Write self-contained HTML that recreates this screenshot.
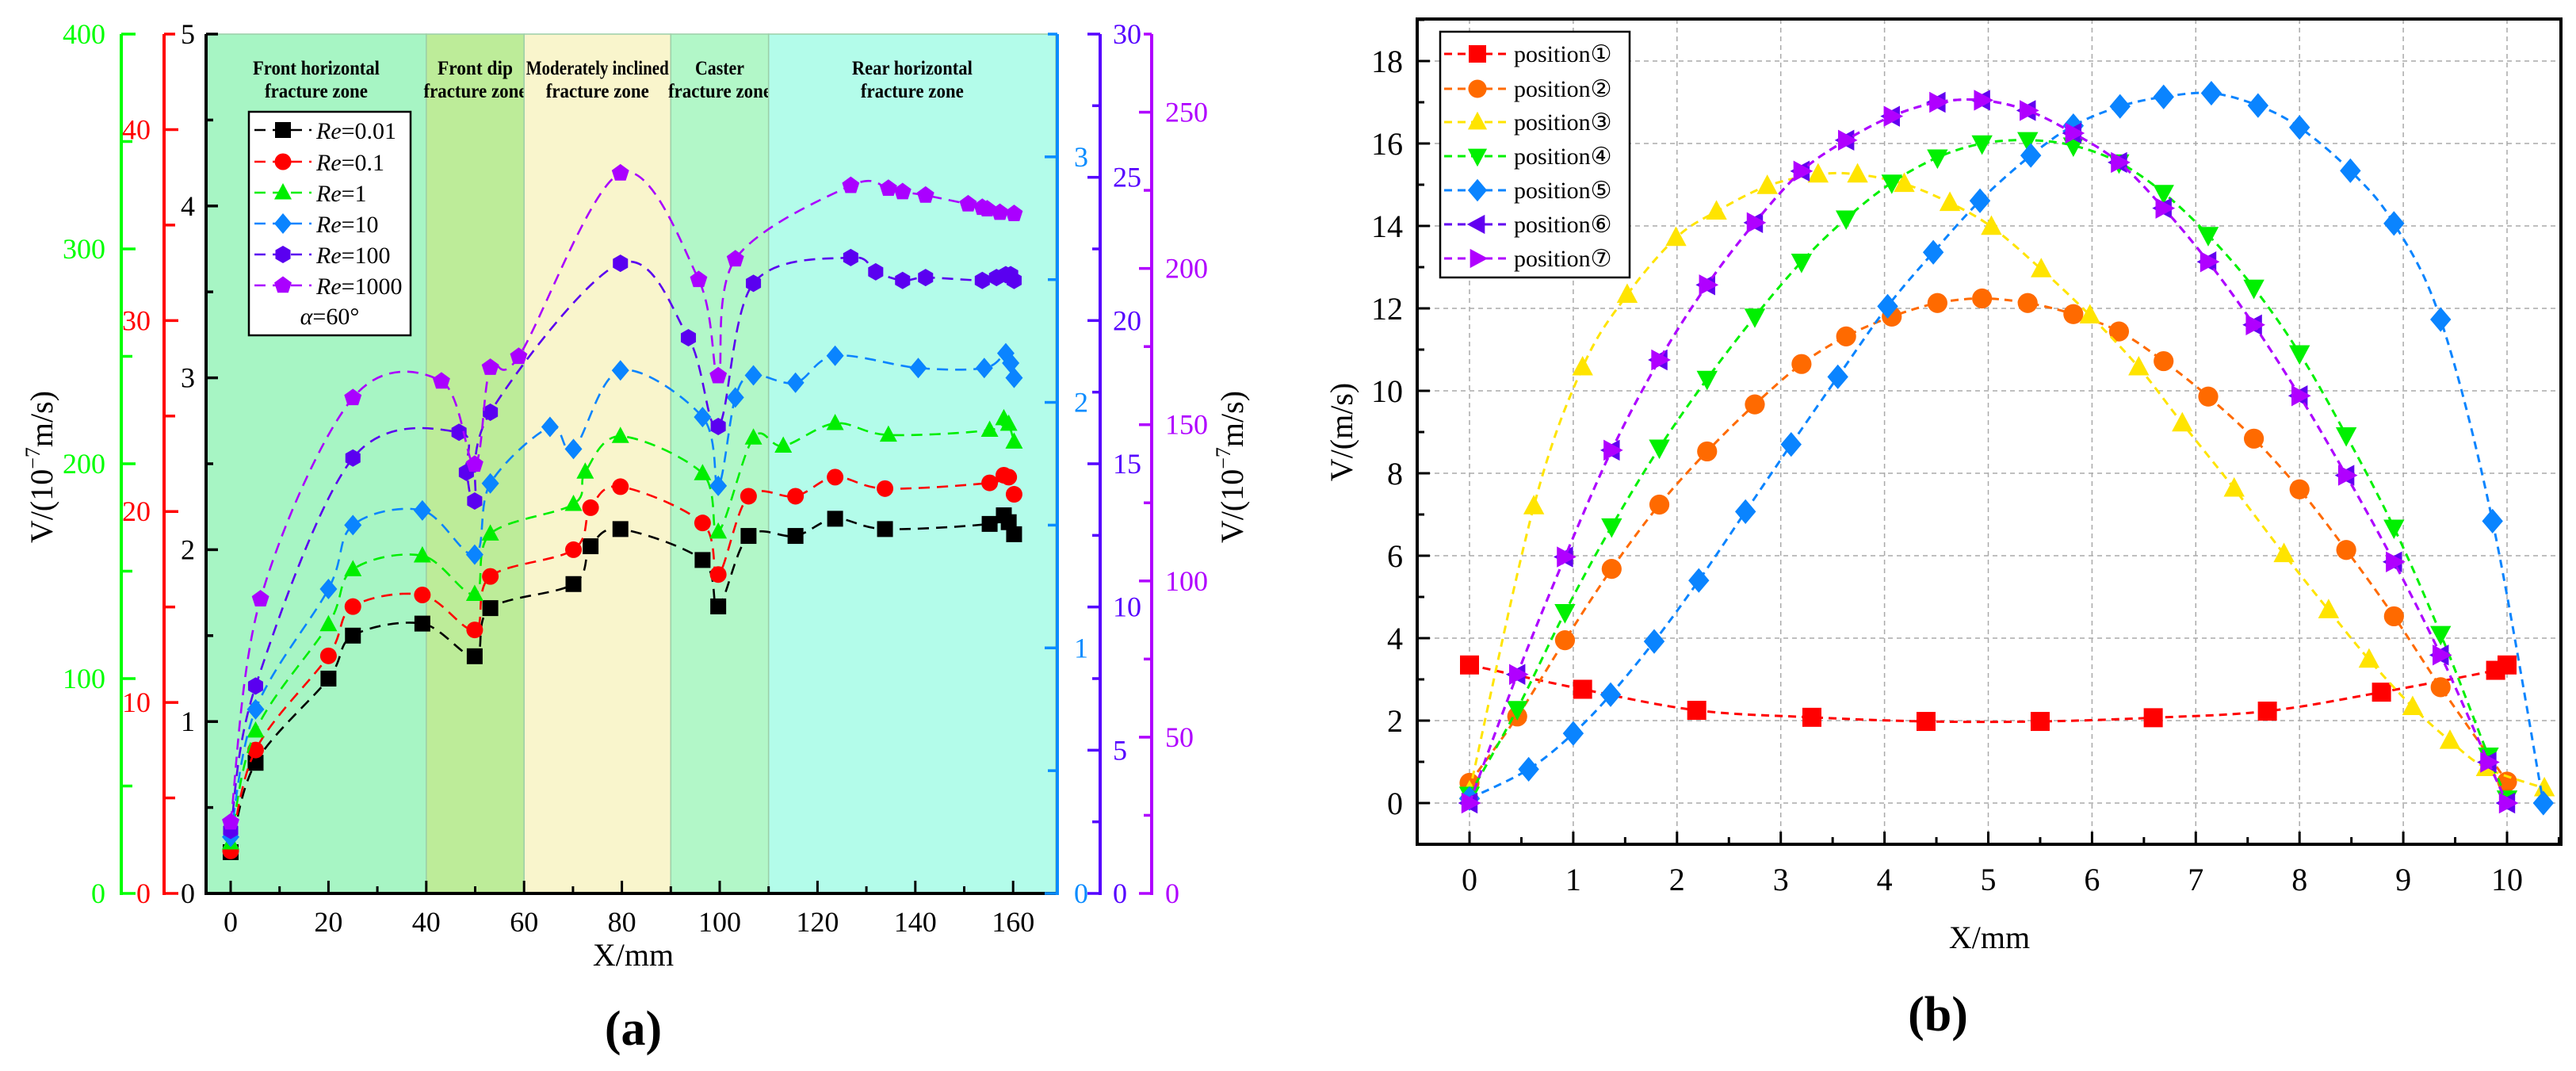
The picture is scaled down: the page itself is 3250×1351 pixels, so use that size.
<!DOCTYPE html>
<html><head><meta charset="utf-8"><style>
html,body{margin:0;padding:0;background:#fff;}
svg{display:block;font-family:"Liberation Serif",serif;}
</style></head><body>
<svg id="root" width="3250" height="1351" viewBox="0 0 3250 1351" xmlns="http://www.w3.org/2000/svg">
<g id="panelA"></g>
<g id="panelB"></g>
</svg>
<script>
// ---------- Panel (a) data ----------
const aZoneBounds = [-5, 40, 60, 90, 110, 169];
const aZoneNames = [["Front horizontal","fracture zone"],["Front dip","fracture zone"],["Moderately inclined","fracture zone"],["Caster","fracture zone"],["Rear horizontal","fracture zone"]];
const aZoneTextLen = [[160,130],[95,130],[180,130],[62,130],[152,130]];
const aX = [0,5.1,20,25,39.2,49.9,53.1,70.1,73.6,79.7,96.5,99.7,105.9,115.5,123.6,133.8,155.2,158.1,159.1,160.2];
const aRe001 = [0.24,0.76,1.25,1.50,1.57,1.38,1.66,1.80,2.02,2.12,1.94,1.67,2.08,2.08,2.18,2.12,2.15,2.20,2.16,2.09];
const aRe01 = [2.23,7.51,12.44,15.02,15.63,13.8,16.6,18.0,20.2,21.3,19.4,16.7,20.8,20.8,21.8,21.2,21.5,21.9,21.8,20.9];
const aX1 = [0,5.1,20,25,39.2,49.9,53.1,70.1,72.5,79.7,96.5,99.7,106.9,113,123.6,134.5,155.2,158.1,159.1,160.2];
const aRe1 = [23.6,75.7,125.2,150.8,157.2,139.3,167.4,181.2,196.2,212.8,195.5,168.3,212.1,208.3,218.8,213.4,215.7,221.1,218.5,210.2];
const aX10 = [0,5.1,20,25,39.2,49.9,53.1,65.3,70.1,79.7,96.5,99.7,103.2,106.9,115.5,123.6,140.6,154.1,158.5,159.5,160.2];
const aRe10 = [0.23,0.75,1.24,1.50,1.56,1.38,1.67,1.90,1.81,2.13,1.94,1.66,2.02,2.11,2.08,2.19,2.14,2.14,2.20,2.16,2.10];
const aX100 = [0,5.1,25,46.7,48.2,49.9,53.1,79.7,93.6,99.7,106.9,126.8,131.9,137.4,142.1,153.7,156.6,158.5,159.5,160.2];
const aRe100 = [2.20,7.24,15.2,16.1,14.7,13.7,16.8,22.0,19.4,16.3,21.3,22.2,21.7,21.4,21.5,21.4,21.5,21.6,21.6,21.4];
const aX1000 = [0,6.1,25,43.1,49.9,53.1,58.9,79.7,95.7,99.7,103.2,126.8,134.5,137.4,142.1,150.8,153.7,154.7,157.3,160.2];
const aRe1000 = [22.8,94.2,158.6,163.9,137.3,168.3,171.8,230.5,196.4,165.6,203.0,226.5,225.6,224.5,223.4,220.6,219.5,219.0,217.9,217.5];
const aLegendLabels = ["=0.01","=0.1","=1","=10","=100","=1000"];
const aBlackTicks = [0,1,2,3,4,5];
const aRedTicks = [0,10,20,30,40];
const aGreenTicks = [0,100,200,300,400];
const aBlueTicks = [0,1,2,3];
const aIndigoTicks = [0,5,10,15,20,25,30];
const aMagentaTicks = [0,50,100,150,200,250];
const aXTicks = [0,20,40,60,80,100,120,140,160];

// ---------- Panel (b) data ----------
const bP1x = [0,1.09,2.19,3.30,4.40,5.50,6.59,7.69,8.79,9.89,10.0];
const bP1y = [3.35,2.76,2.25,2.08,1.98,1.98,2.07,2.23,2.69,3.22,3.35];
const bP2x = [0,0.46,0.92,1.37,1.83,2.29,2.75,3.20,3.63,4.07,4.51,4.94,5.38,5.82,6.26,6.69,7.12,7.56,8.00,8.45,8.91,9.36,10.0];
const bP2y = [0.49,2.10,3.95,5.68,7.24,8.53,9.67,10.65,11.32,11.80,12.13,12.24,12.13,11.86,11.44,10.72,9.86,8.84,7.61,6.14,4.53,2.81,0.52];
const bP3x = [0,0.62,1.09,1.52,1.99,2.38,2.87,3.36,3.74,4.19,4.63,5.03,5.51,5.98,6.45,6.87,7.37,7.85,8.28,8.67,9.09,9.45,9.80,10.36];
const bP3y = [0.28,7.20,10.57,12.33,13.71,14.35,14.97,15.25,15.25,15.02,14.56,13.98,12.95,11.83,10.57,9.21,7.63,6.04,4.68,3.48,2.33,1.51,0.85,0.36];
const bP4x = [0,0.46,0.92,1.37,1.83,2.29,2.75,3.20,3.63,4.07,4.51,4.94,5.38,5.82,6.26,6.69,7.12,7.56,8.00,8.45,8.91,9.36,9.82,10.0];
const bP4y = [0.20,2.28,4.63,6.71,8.62,10.29,11.80,13.13,14.18,15.05,15.66,16.00,16.08,15.95,15.54,14.80,13.78,12.50,10.91,8.92,6.68,4.10,1.15,0.11];
const bP5x = [0,0.57,1.0,1.36,1.78,2.21,2.66,3.10,3.55,4.03,4.47,4.92,5.41,5.82,6.27,6.69,7.15,7.60,8.00,8.49,8.91,9.36,9.86,10.35];
const bP5y = [0.11,0.82,1.69,2.63,3.92,5.40,7.07,8.70,10.34,12.05,13.36,14.61,15.71,16.43,16.90,17.13,17.22,16.92,16.39,15.34,14.06,11.73,6.84,0];
const bP6x = [0,0.46,0.92,1.37,1.83,2.29,2.75,3.20,3.63,4.07,4.51,4.94,5.38,5.82,6.26,6.69,7.12,7.56,8.00,8.45,8.91,9.36,9.82,10.0];
const bP6y = [0,3.12,5.97,8.56,10.75,12.57,14.08,15.33,16.08,16.66,17.00,17.05,16.80,16.25,15.54,14.43,13.13,11.60,9.88,7.95,5.85,3.59,0.99,0];
const bP7x = [0,0.46,0.92,1.37,1.83,2.29,2.75,3.20,3.63,4.07,4.51,4.94,5.38,5.82,6.26,6.69,7.12,7.56,8.00,8.45,8.91,9.36,9.82,10.0];
const bP7y = [0,3.12,5.97,8.56,10.75,12.57,14.08,15.33,16.08,16.66,17.00,17.05,16.80,16.25,15.54,14.43,13.13,11.60,9.88,7.95,5.85,3.59,0.99,0];
const bLegendLabels = ["position\u2460","position\u2461","position\u2462","position\u2463","position\u2464","position\u2465","position\u2466"];
const bXTicks = [0,1,2,3,4,5,6,7,8,9,10];
const bYTicks = [0,2,4,6,8,10,12,14,16,18];

const NS = "http://www.w3.org/2000/svg";
function mk(parent, tag, attrs, text){
  const e = document.createElementNS(NS, tag);
  for (const k in attrs) e.setAttribute(k, attrs[k]);
  if (text !== undefined) e.textContent = text;
  parent.appendChild(e);
  return e;
}
function spline(pts){
  if (pts.length < 2) return "";
  let d = "M" + pts[0][0] + "," + pts[0][1];
  for (let i = 0; i < pts.length - 1; i++){
    const p0 = pts[Math.max(0,i-1)], p1 = pts[i], p2 = pts[i+1], p3 = pts[Math.min(pts.length-1,i+2)];
    const c1x = p1[0] + (p2[0]-p0[0])/6, c1y = p1[1] + (p2[1]-p0[1])/6;
    const c2x = p2[0] - (p3[0]-p1[0])/6, c2y = p2[1] - (p3[1]-p1[1])/6;
    d += " C" + c1x + "," + c1y + " " + c2x + "," + c2y + " " + p2[0] + "," + p2[1];
  }
  return d;
}
function marker(g, type, cx, cy, r, color){
  let e;
  if (type === "square") e = mk(g, "rect", {x:cx-r, y:cy-r, width:2*r, height:2*r, fill:color});
  else if (type === "circle") e = mk(g, "circle", {cx:cx, cy:cy, r:r*1.05, fill:color});
  else {
    let pts;
    if (type === "up") pts = [[0,-1.2],[1.1,0.85],[-1.1,0.85]];
    else if (type === "down") pts = [[0,1.2],[1.1,-0.85],[-1.1,-0.85]];
    else if (type === "diamond") pts = [[0,-1.3],[1.1,0],[0,1.3],[-1.1,0]];
    else if (type === "left") pts = [[-1.2,0],[0.85,-1.1],[0.85,1.1]];
    else if (type === "right") pts = [[1.2,0],[-0.85,-1.1],[-0.85,1.1]];
    else if (type === "hex") { pts = []; for (let k=0;k<6;k++){const a=Math.PI/6+k*Math.PI/3; pts.push([Math.cos(a)*1.1,Math.sin(a)*1.1]);} }
    else if (type === "pent") { pts = []; for (let k=0;k<5;k++){const a=-Math.PI/2+k*2*Math.PI/5; pts.push([Math.cos(a)*1.15,Math.sin(a)*1.15]);} }
    e = mk(g, "polygon", {points: pts.map(p => (cx+p[0]*r)+","+(cy+p[1]*r)).join(" "), fill:color});
  }
  
  
  return e;
}

// ================= Panel A =================
(function(){
  const g = document.getElementById("panelA");
  const L = 260, R = 1332, T = 43, B = 1127, H = B - T;
  const xs = v => 291 + v * 6.17;
  const yBlack = v => B - v / 5 * H;
  const yRed = v => B - v / 45 * H;
  const yGreen = v => B - v / 400 * H;
  const yBlue = v => B - v / 3.5 * H;
  const yIndigo = v => B - v / 30 * H;
  const yMag = v => B - v / 275 * H;
  const zoneColors = ["#a7f5c4","#bdec99","#f9f5cc","#b2f7c8","#b3fcea"];
  const zoneNames = ["zone-front-horizontal","zone-front-dip","zone-moderately-inclined","zone-caster","zone-rear-horizontal"];
  for (let i = 0; i < 5; i++){
    const x0 = Math.max(L, xs(aZoneBounds[i])), x1 = Math.min(R, xs(aZoneBounds[i+1]));
    const r = mk(g, "rect", {x:x0, y:T, width:x1-x0, height:H, fill:zoneColors[i], stroke:"#9ccfa8", "stroke-width":1.5});
    
    
    const cx = (x0 + x1) / 2;
    const t = mk(g, "text", {x:cx, y:94, "text-anchor":"middle", "font-size":25, "font-weight":"bold", textLength:aZoneTextLen[i][0], lengthAdjust:"spacingAndGlyphs"}, aZoneNames[i][0]);
    
    
    const t2 = mk(g, "text", {x:cx, y:123, "text-anchor":"middle", "font-size":25, "font-weight":"bold", textLength:aZoneTextLen[i][1], lengthAdjust:"spacingAndGlyphs"}, aZoneNames[i][1]);
    
    
  }
  const series = [
    {x:aX, v:aRe001, f:yBlack, c:"#000000", m:"square", n:"series-re-0-01"},
    {x:aX, v:aRe01, f:yRed, c:"#ff0000", m:"circle", n:"series-re-0-1"},
    {x:aX1, v:aRe1, f:yGreen, c:"#00ee00", m:"up", n:"series-re-1"},
    {x:aX10, v:aRe10, f:yBlue, c:"#0a84ff", m:"diamond", n:"series-re-10"},
    {x:aX100, v:aRe100, f:yIndigo, c:"#5a00f0", m:"hex", n:"series-re-100"},
    {x:aX1000, v:aRe1000, f:yMag, c:"#aa00ff", m:"pent", n:"series-re-1000"}
  ];
  series.forEach(s => {
    const sg = mk(g, "g", {});
    
    
    const pts = s.v.map((v,i) => [xs(s.x[i]), s.f(v)]);
    mk(sg, "path", {d:spline(pts), fill:"none", stroke:s.c, "stroke-width":2.6, "stroke-dasharray":"14,9"});
    pts.forEach(p => marker(sg, s.m, p[0], p[1], 10, s.c));
  });
  const xa = mk(g, "g", {});
  
  
  mk(xa, "line", {x1:L-2, y1:B, x2:R, y2:B, stroke:"#000", "stroke-width":4});
  for (let v = 0; v <= 165; v += 10){
    const maj = aXTicks.indexOf(v) >= 0;
    mk(xa, "line", {x1:xs(v), y1:B, x2:xs(v), y2:B-(maj?16:9), stroke:"#000", "stroke-width":3});
  }
  aXTicks.forEach(v => mk(xa, "text", {x:xs(v), y:1175, "text-anchor":"middle", "font-size":36}, v));
  const xt = mk(g, "text", {x:799, y:1218, "text-anchor":"middle", "font-size":40}, "X/mm");
  
  
  function vAxis(name, ax, color, ticksAll, labels, f, dir, labelX, anchor, minorLen, majorLen){
    const a = mk(g, "g", {});
    
    
    mk(a, "line", {x1:ax, y1:T, x2:ax, y2:B+2, stroke:color, "stroke-width":4});
    ticksAll.forEach(v => {
      const maj = labels.indexOf(v) >= 0;
      mk(a, "line", {x1:ax, y1:f(v), x2:ax + dir*(maj?majorLen:minorLen), y2:f(v), stroke:color, "stroke-width":3.5});
    });
    labels.forEach(v => mk(a, "text", {x:labelX, y:f(v)+12, "text-anchor":anchor, "font-size":36, fill:color}, v));
  }
  const rng = (a,b,s) => { const r=[]; for (let v=a; v<=b+1e-9; v+=s) r.push(Math.round(v*100)/100); return r; };
  vAxis("y-axis-green", 153, "#00ff00", rng(0,400,50), aGreenTicks, yGreen, 1, 133, "end", 14, 18);
  vAxis("y-axis-red", 207, "#ff0000", rng(0,45,5), aRedTicks, yRed, 1, 190, "end", 14, 18);
  vAxis("y-axis-black", 260, "#000000", rng(0,5,0.5), aBlackTicks, yBlack, 1, 246, "end", 9, 15);
  vAxis("y-axis-blue", 1334, "#0a8cff", rng(0,3.5,0.5), aBlueTicks, yBlue, -1, 1355, "start", 12, 16);
  vAxis("y-axis-indigo", 1388, "#5500ff", rng(0,30,2.5), aIndigoTicks, yIndigo, -1, 1404, "start", 10, 16);
  vAxis("y-axis-magenta", 1453, "#b000ff", rng(0,275,25), aMagentaTicks, yMag, -1, 1470, "start", 10, 16);
  const lt = mk(g, "text", {x:0, y:0, transform:"translate(66,589) rotate(-90)", "text-anchor":"middle", "font-size":40}, "");
  
  
  lt.innerHTML = 'V/(10<tspan dy="-16" font-size="26">\u22127</tspan><tspan dy="16">m/s)</tspan>';
  const rt = mk(g, "text", {x:0, y:0, transform:"translate(1568,589) rotate(-90)", "text-anchor":"middle", "font-size":40}, "");
  
  
  rt.innerHTML = 'V/(10<tspan dy="-16" font-size="26">\u22127</tspan><tspan dy="16">m/s)</tspan>';
  const lg = mk(g, "g", {});
  
  
  mk(lg, "rect", {x:314, y:141, width:204, height:282, fill:"#fff", stroke:"#000", "stroke-width":2.5});
  const legY = [164,204,243,282,321,360];
  series.forEach((s,i) => {
    const e = mk(lg, "g", {});
    
    
    mk(e, "line", {x1:321, y1:legY[i], x2:393, y2:legY[i], stroke:s.c, "stroke-width":2.6, "stroke-dasharray":"14,9"});
    marker(e, s.m, 357, legY[i], 10, s.c);
    const t = mk(e, "text", {x:399, y:legY[i]+11, "font-size":30}, "");
    t.innerHTML = '<tspan font-style="italic">Re</tspan>' + aLegendLabels[i];
  });
  const al = mk(lg, "text", {x:416, y:409, "text-anchor":"middle", "font-size":30}, "");
  al.innerHTML = '<tspan font-style="italic">\u03b1</tspan>=60\u00b0';
  const pa = mk(g, "text", {x:799, y:1318, "text-anchor":"middle", "font-size":62, "font-weight":"bold"}, "(a)");
  
  
})();

// ================= Panel B =================
(function(){
  const g = document.getElementById("panelB");
  const L = 1788, R = 3231, T = 24, B = 1065;
  const xs = v => 1854 + v * 130.9;
  const ys = v => 1013 - v * 52.0;
  const grid = mk(g, "g", {});
  
  
  bXTicks.forEach(v => mk(grid, "line", {x1:xs(v), y1:T, x2:xs(v), y2:B, stroke:"#aaa", "stroke-width":1.5, "stroke-dasharray":"6,5"}));
  bYTicks.forEach(v => mk(grid, "line", {x1:L, y1:ys(v), x2:R, y2:ys(v), stroke:"#aaa", "stroke-width":1.5, "stroke-dasharray":"6,5"}));
  const series = [
    {x:bP1x, y:bP1y, c:"#ff0000", m:"square", n:"series-position-1"},
    {x:bP2x, y:bP2y, c:"#ff6a00", m:"circle", n:"series-position-2"},
    {x:bP3x, y:bP3y, c:"#ffe400", m:"up", n:"series-position-3"},
    {x:bP4x, y:bP4y, c:"#00f000", m:"down", n:"series-position-4"},
    {x:bP5x, y:bP5y, c:"#0a84ff", m:"diamond", n:"series-position-5"},
    {x:bP6x, y:bP6y, c:"#6200f0", m:"left", n:"series-position-6"},
    {x:bP7x, y:bP7y, c:"#b000ff", m:"right", n:"series-position-7"}
  ];
  series.forEach(s => {
    const sg = mk(g, "g", {});
    
    
    const pts = s.y.map((v,i) => [xs(s.x[i]), ys(v)]);
    mk(sg, "path", {d:spline(pts), fill:"none", stroke:s.c, "stroke-width":3, "stroke-dasharray":"10,7"});
    pts.forEach(p => marker(sg, s.m, p[0], p[1], 12, s.c));
  });
  const fr = mk(g, "rect", {x:L, y:T, width:R-L, height:B-T, fill:"none", stroke:"#000", "stroke-width":4});
  
  
  const xa = mk(g, "g", {});
  
  
  for (let v = -0.5; v <= 10.5; v += 0.5){
    const maj = Math.abs(v - Math.round(v)) < 1e-6;
    mk(xa, "line", {x1:xs(v), y1:B, x2:xs(v), y2:B-(maj?16:9), stroke:"#000", "stroke-width":3});
  }
  bXTicks.forEach(v => mk(xa, "text", {x:xs(v), y:1123, "text-anchor":"middle", "font-size":40}, v));
  const ya = mk(g, "g", {});
  
  
  for (let v = -1; v <= 19; v += 1){
    const maj = v % 2 === 0;
    mk(ya, "line", {x1:L, y1:ys(v), x2:L+(maj?16:9), y2:ys(v), stroke:"#000", "stroke-width":3});
  }
  bYTicks.forEach(v => mk(ya, "text", {x:1770, y:ys(v)+14, "text-anchor":"end", "font-size":40}, v));
  const xt = mk(g, "text", {x:2510, y:1196, "text-anchor":"middle", "font-size":40}, "X/mm");
  
  
  const yt = mk(g, "text", {x:0, y:0, transform:"translate(1706,545) rotate(-90)", "text-anchor":"middle", "font-size":40}, "V/(m/s)");
  
  
  const lg = mk(g, "g", {});
  
  
  mk(lg, "rect", {x:1817, y:40, width:239, height:310, fill:"#fff", stroke:"#000", "stroke-width":2.5});
  const legY = [68,112,154,197,240,283,326];
  series.forEach((s,i) => {
    const e = mk(lg, "g", {});
    
    
    mk(e, "line", {x1:1822, y1:legY[i], x2:1904, y2:legY[i], stroke:s.c, "stroke-width":3, "stroke-dasharray":"10,7"});
    marker(e, s.m, 1864, legY[i], 11, s.c);
    mk(e, "text", {x:1910, y:legY[i]+10, "font-size":30}, bLegendLabels[i]);
  });
  const pb = mk(g, "text", {x:2445, y:1300, "text-anchor":"middle", "font-size":62, "font-weight":"bold"}, "(b)");
  
  
})();
</script>
</body></html>
